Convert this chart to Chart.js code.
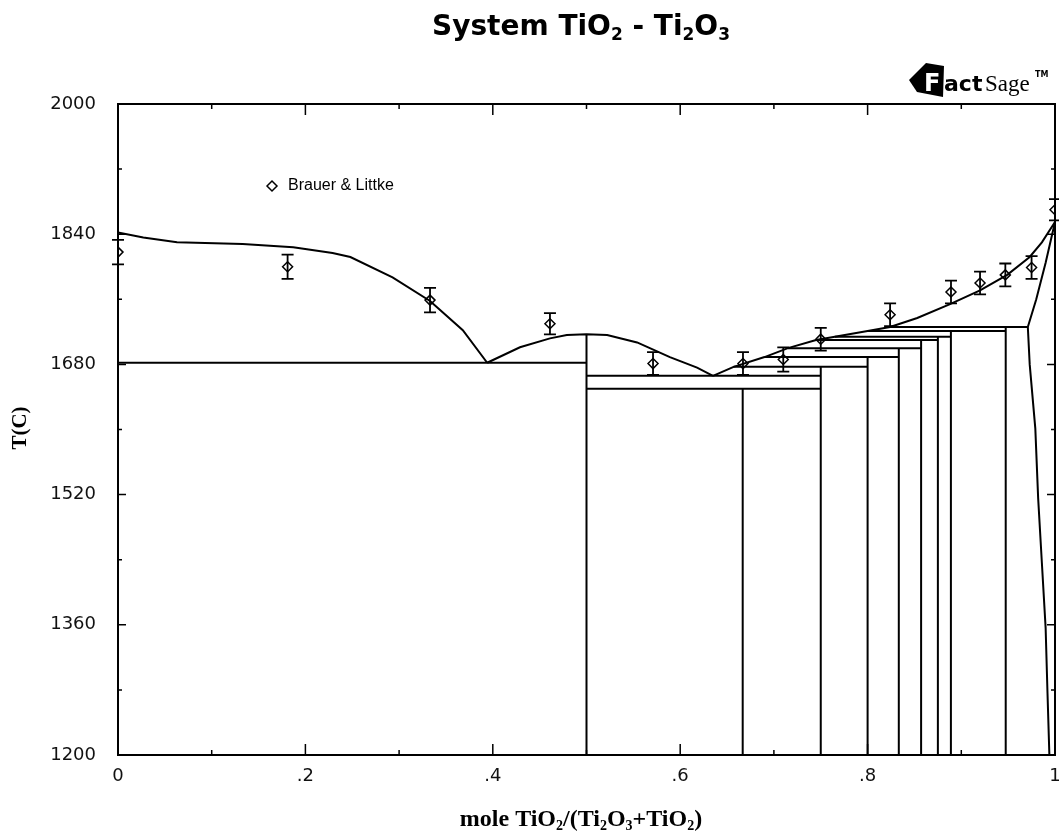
<!DOCTYPE html>
<html>
<head>
<meta charset="utf-8">
<title>System TiO2 - Ti2O3</title>
<script src="https://cdn.jsdelivr.net/npm/chart.js@4.4.1/dist/chart.umd.min.js"></script>
<style>
  html, body { margin: 0; padding: 0; background: #fff; overflow: hidden; }
  #wrap { width: 1059px; height: 836px; }
  canvas { display: block; }
</style>
</head>
<body>
<div id="wrap"><canvas id="phaseChart" width="1059" height="836"></canvas></div>
<script>
// Liquidus from Ti2O3 down to the first eutectic
const liqAX = [0, 0.027, 0.063, 0.133, 0.187, 0.229, 0.248, 0.293, 0.333, 0.368, 0.394];
const liqAT = [1842, 1836, 1830, 1828, 1824, 1817, 1812, 1787, 1758, 1722, 1682];

// Ti3O5 liquidus (eutectic - maximum - eutectic)
const liqBX = [0.394, 0.429, 0.461, 0.479, 0.5, 0.522, 0.554, 0.589, 0.618, 0.635];
const liqBT = [1682, 1701, 1712, 1716, 1717, 1716, 1707, 1689, 1676, 1666];

// Liquidus from the second eutectic up to TiO2
const liqCX = [0.635, 0.657, 0.690, 0.715, 0.745, 0.765, 0.800, 0.824, 0.853, 0.888, 0.920, 0.949, 0.973, 0.986, 1.0];
const liqCT = [1666, 1677, 1689, 1700, 1710, 1714, 1721, 1726, 1737, 1754, 1771, 1790, 1812, 1830, 1855];

// Rutile solidus and solvus
const solidusX = [1.0, 0.990, 0.980, 0.971];
const solidusT = [1855, 1805, 1760, 1726];
const solvusX = [0.971, 0.973, 0.979, 0.982, 0.986, 0.990, 0.992, 0.994];
const solvusT = [1726, 1680, 1601, 1516, 1436, 1356, 1276, 1200];

// Invariant (horizontal) lines
const invT  = [1682, 1666, 1650, 1677, 1689, 1700, 1710, 1714, 1721, 1726];
const invX0 = [0,    0.5,  0.5,  0.657, 0.690, 0.715, 0.745, 0.765, 0.800, 0.824];
const invX1 = [0.5,  0.75, 0.75, 0.800, 0.8333, 0.8571, 0.875, 0.8889, 0.9474, 0.971];

// Magneli phases TinO2n-1 (vertical lines)
const phaseX   = [0.5, 0.6667, 0.75, 0.8, 0.8333, 0.8571, 0.875, 0.8889, 0.9474];
const phaseTop = [1717, 1650, 1677, 1689, 1700, 1710, 1714, 1721, 1726];

// Brauer & Littke measurements
const expX   = [0.0, 0.181, 0.333, 0.461, 0.571, 0.667, 0.710, 0.750, 0.824, 0.889, 0.920, 0.947, 0.975, 1.0];
const expT   = [1818, 1800, 1759, 1730, 1681, 1681, 1686, 1711, 1741, 1769, 1780, 1790, 1799, 1870];
const expErr = [15, 15, 15, 13, 14, 14, 15, 14, 14, 14, 14, 14, 14, 13];

const xTicks = [0, 0.2, 0.4, 0.6, 0.8, 1];
const xTickLabels = ['0', '.2', '.4', '.6', '.8', '1'];
const yTicks = [1200, 1360, 1520, 1680, 1840, 2000];

function toPoints(xs, ts) {
    return xs.map((x, i) => ({ x: x, y: ts[i] }));
}

const lineStyle = {
    showLine: true,
    pointRadius: 0,
    pointHoverRadius: 0,
    borderColor: '#000',
    borderWidth: 2,
    fill: false,
    tension: 0
};

const datasets = [
    { ...lineStyle, data: toPoints(liqAX, liqAT) },
    { ...lineStyle, data: toPoints(liqBX, liqBT) },
    { ...lineStyle, data: toPoints(liqCX, liqCT) },
    { ...lineStyle, data: toPoints(solidusX, solidusT) },
    { ...lineStyle, data: toPoints(solvusX, solvusT) }
];
invT.forEach((t, i) => {
    datasets.push({ ...lineStyle, data: [{ x: invX0[i], y: t }, { x: invX1[i], y: t }] });
});
phaseX.forEach((x, i) => {
    datasets.push({ ...lineStyle, data: [{ x: x, y: phaseTop[i] }, { x: x, y: 1200 }] });
});
datasets.push({
    label: 'Brauer & Littke',
    data: toPoints(expX, expT),
    showLine: false,
    pointStyle: 'rectRot',
    pointRadius: 5,
    borderColor: '#000',
    backgroundColor: '#fff',
    pointBorderWidth: 1.5
});

// Draw text with subscripts, centred on cx
function drawSubText(ctx, parts, cx, y, font, subFont, subDrop) {
    let total = 0;
    parts.forEach(p => {
        ctx.font = p[1] ? subFont : font;
        total += ctx.measureText(p[0]).width;
    });
    let x = cx - total / 2;
    ctx.textAlign = 'left';
    ctx.textBaseline = 'alphabetic';
    parts.forEach(p => {
        ctx.font = p[1] ? subFont : font;
        ctx.fillText(p[0], x, p[1] ? y + subDrop : y);
        x += ctx.measureText(p[0]).width;
    });
}

// Frame, inward ticks, error bars, legend, titles and logo
const decorPlugin = {
    id: 'decor',
    afterDatasetsDraw(chart) {
        const ctx = chart.ctx;
        const area = chart.chartArea;
        const xs = chart.scales.x;
        const ys = chart.scales.y;
        ctx.save();
        ctx.strokeStyle = '#000';
        ctx.fillStyle = '#000';

        // error bars
        ctx.lineWidth = 1.8;
        expX.forEach((x, i) => {
            const px = xs.getPixelForValue(x);
            const top = ys.getPixelForValue(expT[i] + expErr[i]);
            const bot = ys.getPixelForValue(expT[i] - expErr[i]);
            ctx.beginPath();
            ctx.moveTo(px, top); ctx.lineTo(px, bot);
            ctx.moveTo(px - 6, top); ctx.lineTo(px + 6, top);
            ctx.moveTo(px - 6, bot); ctx.lineTo(px + 6, bot);
            ctx.stroke();
        });

        // frame
        ctx.lineWidth = 2;
        ctx.strokeRect(area.left, area.top, area.right - area.left, area.bottom - area.top);

        // x ticks (bottom and top)
        ctx.lineWidth = 1.5;
        for (let k = 0; k <= 10; k++) {
            const px = xs.getPixelForValue(k / 10);
            const len = k % 2 === 0 ? 11 : 5;
            ctx.beginPath();
            ctx.moveTo(px, area.bottom); ctx.lineTo(px, area.bottom - len);
            ctx.moveTo(px, area.top); ctx.lineTo(px, area.top + len);
            ctx.stroke();
        }
        // y ticks (left and right)
        for (let v = 1200; v <= 2000; v += 80) {
            const py = ys.getPixelForValue(v);
            const len = (v - 1200) % 160 === 0 ? 8 : 4;
            ctx.beginPath();
            ctx.moveTo(area.left, py); ctx.lineTo(area.left + len, py);
            ctx.moveTo(area.right, py); ctx.lineTo(area.right - len, py);
            ctx.stroke();
        }

        // x tick labels
        ctx.font = '18px "DejaVu Sans", sans-serif';
        ctx.fillStyle = '#111';
        ctx.textAlign = 'center';
        ctx.textBaseline = 'middle';
        xTicks.forEach((v, i) => {
            ctx.fillText(xTickLabels[i], xs.getPixelForValue(v), area.bottom + 21);
        });
        ctx.fillStyle = '#000';

        // legend
        const lx = area.left + 154, ly = area.top + 82;
        ctx.lineWidth = 1.5;
        ctx.beginPath();
        ctx.moveTo(lx - 5, ly); ctx.lineTo(lx, ly - 5); ctx.lineTo(lx + 5, ly); ctx.lineTo(lx, ly + 5);
        ctx.closePath();
        ctx.stroke();
        ctx.font = '16px "Liberation Sans", Arial, sans-serif';
        ctx.textAlign = 'left';
        ctx.textBaseline = 'middle';
        ctx.fillText('Brauer & Littke', lx + 16, ly);

        // title
        drawSubText(ctx,
            [['System TiO', 0], ['2', 1], [' - Ti', 0], ['2', 1], ['O', 0], ['3', 1]],
            581, 35, 'bold 28px "DejaVu Sans", sans-serif',
            'bold 17px "DejaVu Sans", sans-serif', 5);

        // x axis title
        drawSubText(ctx,
            [['mole TiO', 0], ['2', 1], ['/(Ti', 0], ['2', 1], ['O', 0], ['3', 1], ['+TiO', 0], ['2', 1], [')', 0]],
            581, 826, 'bold 24px "Liberation Serif", "Times New Roman", serif',
            'bold 14px "Liberation Serif", "Times New Roman", serif', 4);

        // y axis title
        ctx.save();
        ctx.translate(21, 428);
        ctx.rotate(-Math.PI / 2);
        ctx.font = 'bold 21px "Liberation Serif", "Times New Roman", serif';
        ctx.textAlign = 'center';
        ctx.textBaseline = 'middle';
        ctx.fillText('T(C)', 0, 0);
        ctx.restore();

        // FactSage logo
        ctx.beginPath();
        ctx.moveTo(909, 80); ctx.lineTo(926, 63); ctx.lineTo(944, 66);
        ctx.lineTo(943, 97); ctx.lineTo(917, 92);
        ctx.closePath();
        ctx.fill();
        ctx.fillStyle = '#fff';
        ctx.font = 'bold 24px "DejaVu Sans", sans-serif';
        ctx.textAlign = 'left';
        ctx.textBaseline = 'alphabetic';
        ctx.fillText('F', 924, 91);
        ctx.fillStyle = '#000';
        ctx.font = 'bold 22px "DejaVu Sans", sans-serif';
        ctx.fillText('act', 944, 91);
        ctx.font = '23px "Liberation Serif", serif';
        ctx.fillText('Sage', 985, 91);
        ctx.font = 'bold 8px "DejaVu Sans", sans-serif';
        ctx.fillText('TM', 1035, 77);
        ctx.restore();
    }
};

new Chart(document.getElementById('phaseChart'), {
    type: 'scatter',
    data: { datasets: datasets },
    options: {
        responsive: false,
        animation: false,
        events: [],
        layout: { autoPadding: false, padding: { top: 104, left: 0, right: 4, bottom: 0 } },
        plugins: {
            legend: { display: false },
            title: { display: false },
            tooltip: { enabled: false }
        },
        scales: {
            x: {
                type: 'linear',
                min: 0,
                max: 1,
                afterFit: s => { s.height = 81; },
                grid: { display: false, drawTicks: false },
                border: { display: false },
                ticks: { display: false }
            },
            y: {
                type: 'linear',
                min: 1200,
                max: 2000,
                afterFit: s => { s.width = 118; s.paddingTop = 0; s.paddingBottom = 0; },
                afterBuildTicks: s => { s.ticks = yTicks.map(v => ({ value: v })); },
                grid: { display: false, drawTicks: false },
                border: { display: false },
                ticks: {
                    padding: 22,
                    color: '#111',
                    font: { family: '"DejaVu Sans", sans-serif', size: 18 },
                    callback: (v) => String(v)
                }
            }
        }
    },
    plugins: [decorPlugin]
});
</script>
</body>
</html>
